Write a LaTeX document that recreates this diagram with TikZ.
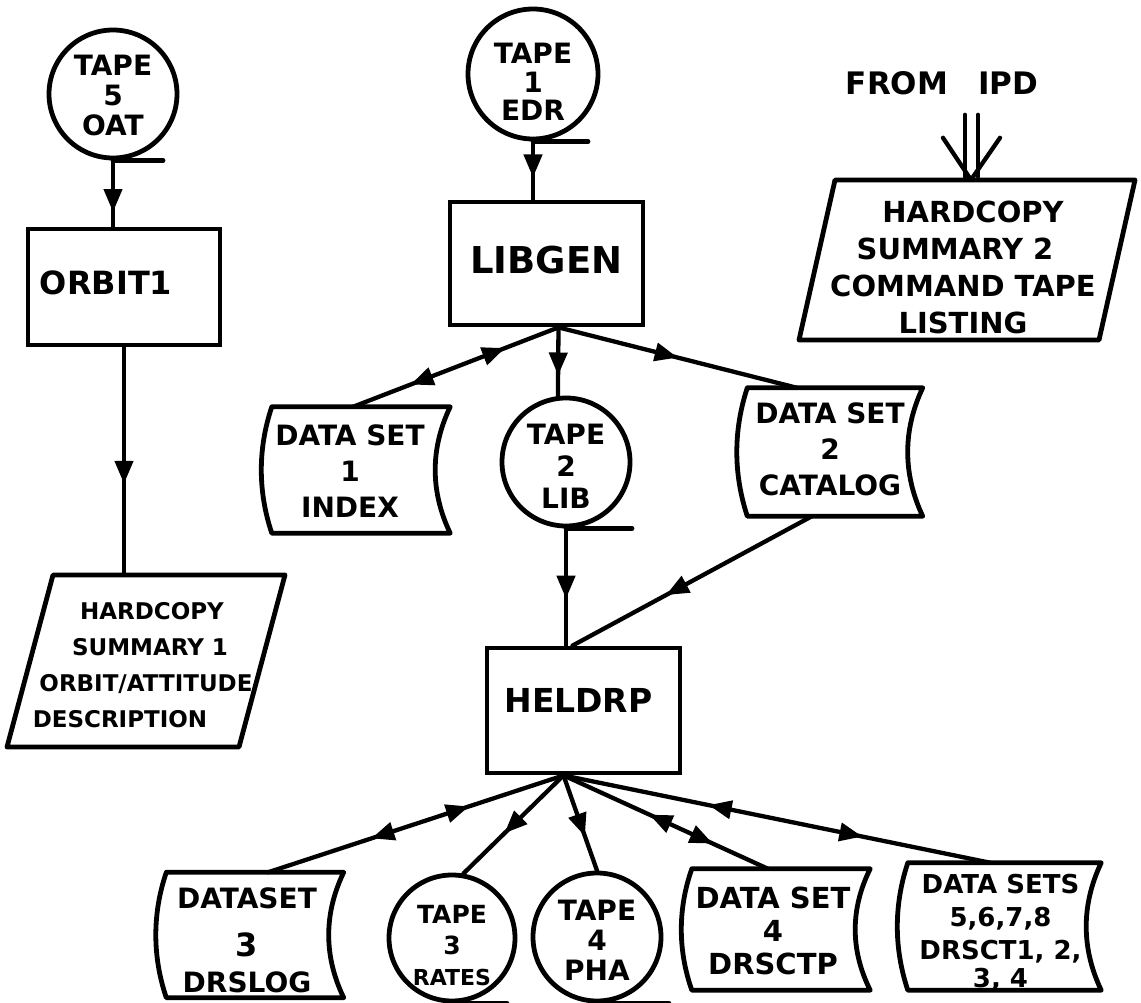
\documentclass[tikz,border=0pt]{standalone}
\usepackage{fontspec}
\newfontfamily\hand{DejaVu Sans}
\usetikzlibrary{calc,decorations.markings,arrows.meta}
\newcommand\tx[3]{\raisebox{#2}[\height][\depth]{\hspace*{#1}\begin{tabular}{@{}c@{}}#3\end{tabular}}}
\newcommand\dsbox[1]{\draw[shp] (#1.north west) -- (#1.north east)
  .. controls ($(#1.north east)!0.33!(#1.south east)+(-20,0)$) and ($(#1.north east)!0.67!(#1.south east)+(-20,0)$) .. (#1.south east)
  -- (#1.south west)
  .. controls ($(#1.north west)!0.67!(#1.south west)+(-14,0)$) and ($(#1.north west)!0.33!(#1.south west)+(-14,0)$) .. (#1.north west);}
\newcommand\para[4]{\draw[shp] ($(#1)+(-#2+#4,-#3)$) -- ($(#1)+(#2+#4,-#3)$) -- ($(#1)+(#2-#4,#3)$) -- ($(#1)+(-#2-#4,#3)$) -- cycle;}
\tikzset{
  shp/.style={line width=4.8pt, line join=round, line cap=round},
  conn/.style={line width=4.3pt, line cap=round},
  circ/.style={circle, draw, line width=4.8pt, inner sep=0pt, font=\hand\bfseries\fontsize{28}{30}\selectfont},
  procbox/.style={rectangle, draw, line width=4.8pt, inner sep=0pt, font=\hand\bfseries\fontsize{34}{40}\selectfont},
  dset/.style={rectangle, inner sep=0pt, font=\hand\bfseries\fontsize{28}{36}\selectfont},
  hcopy/.style={rectangle, inner sep=0pt, font=\hand\bfseries\fontsize{23}{36}\selectfont},
  fwd/.style={postaction={decorate,decoration={markings,mark=at position #1 with {\arrow{Triangle[length=23pt,width=18pt]}}}}},
  bwd/.style={postaction={decorate,decoration={markings,mark=at position #1 with {\arrowreversed{Triangle[length=23pt,width=18pt]}}}}},
}
\begin{document}
\begin{tikzpicture}[x=1pt,y=-1pt]
\useasboundingbox (0,0) rectangle (1141,1003);

% left column
\node[circ, minimum size=128pt] (t5) at (113,94) {\tx{0pt}{-6pt}{TAPE\\5\\OAT}};
\node[procbox, font=\hand\bfseries\fontsize{32}{36}\selectfont, minimum width=192pt, minimum height=116pt] (orbit) at (124,287) {\tx{-36pt}{0pt}{ORBIT1}};
\node[hcopy, minimum width=232pt, minimum height=172pt] (hc1) at (146,661)
  {\tx{0pt}{-5pt}{\hspace*{12pt}HARDCOPY\\\hspace*{8pt}SUMMARY 1\\ORBIT/ATTITUDE\\DESCRIPTION\hspace*{52pt}}};
\para{hc1}{116}{86}{23}

% middle column
\node[circ, font=\hand\bfseries\fontsize{28}{28}\selectfont, minimum size=130pt] (t1) at (533,74) {\tx{0pt}{-12pt}{TAPE\\1\\EDR}};
\node[procbox, font=\hand\bfseries\fontsize{37}{40}\selectfont, minimum width=193pt, minimum height=123pt] (libgen) at (546.5,263.5) {\tx{0pt}{-2pt}{LIBGEN}};
\node[dset, minimum width=178pt, minimum height=126pt] (ds1) at (361,470) {\tx{-22pt}{-4pt}{DATA SET\\1\\INDEX}};
\dsbox{ds1}
\node[circ, font=\hand\bfseries\fontsize{28}{32}\selectfont, minimum size=128pt] (t2) at (566,462) {\tx{0pt}{-8pt}{TAPE\\2\\LIB}};
\node[dset, minimum width=175pt, minimum height=128pt] (ds2) at (835,452) {\tx{-10pt}{0pt}{DATA SET\\2\\CATALOG}};
\dsbox{ds2}
\node[procbox, font=\hand\bfseries\fontsize{33}{36}\selectfont, minimum width=193pt, minimum height=125pt] (heldrp) at (583.5,710.5) {\tx{-10pt}{5pt}{HELDRP}};

% right top
\node[font=\hand\bfseries\fontsize{31}{36}\selectfont, inner sep=0pt] (ipd) at (942,83) {FROM\hspace{30pt}IPD};
\node[hcopy, font=\hand\bfseries\fontsize{29}{37}\selectfont, minimum width=300pt, minimum height=160pt] (hc2) at (967,260)
  {\tx{-8pt}{-11pt}{\hspace*{20pt}HARDCOPY\\SUMMARY 2\hspace*{16pt}\\COMMAND TAPE\\LISTING}};
\para{hc2}{150}{80}{18}

% bottom row
\node[dset, minimum width=177pt, minimum height=125pt] (ds3) at (255,935) {\tx{-16pt}{-8pt}{DATASET\\[12pt]{\fontsize{32}{36}\selectfont 3}\\DRSLOG}};
\dsbox{ds3}
\node[circ, font=\hand\bfseries\fontsize{25}{31}\selectfont, minimum size=126pt] (t3) at (452,938) {\tx{0pt}{-10pt}{TAPE\\3\\{\fontsize{22}{30}\selectfont RATES}}};
\node[circ, minimum size=128pt] (t4) at (597,937) {\tx{0pt}{-7pt}{TAPE\\4\\PHA}};
\node[dset, font=\hand\bfseries\fontsize{29}{33}\selectfont, minimum width=178pt, minimum height=121pt] (ds4) at (781,929.5) {\tx{-16pt}{-5pt}{DATA SET\\4\\DRSCTP}};
\dsbox{ds4}
\node[dset, font=\hand\bfseries\fontsize{26}{33}\selectfont, minimum width=193pt, minimum height=123pt] (ds5) at (1004.5,926.5) {\tx{-8pt}{-7pt}{DATA SETS\\5,6,7,8\\DRSCT1, 2,\\[-5pt]3, 4}};
\dsbox{ds5}

% tape tails
\draw[shp] (t5.south) -- ++(50,0);
\draw[shp] (t1.south) -- ++(55,0);
\draw[shp] (t2.south) -- ++(66,0);
\draw[shp] (t3.south) -- ++(55,0);
\draw[shp] (t4.south) -- ++(72,0);

% fan points
\coordinate (lgb) at ($(libgen.south)+(12,0)$);
\coordinate (hb) at ($(heldrp.south)+(-20,0)$);

% connectors
\draw[conn, fwd=0.78] (t5.south) -- (t5.south |- orbit.north);
\draw[conn, fwd=0.6] (orbit.south) -- (orbit.south |- hc1.north);
\draw[conn, fwd=0.62] (t1.south) -- (t1.south |- libgen.north);
\draw[conn, fwd=0.7] (lgb) -- (t2.97);
\draw[conn, fwd=0.5] (lgb) -- ($(ds2.north)+(-38,0)$);
\draw[conn, bwd=0.26, fwd=0.72] (lgb) -- ($(ds1.north)+(-8,0)$);
\draw[conn, fwd=0.6] (t2.south) -- (t2.south |- heldrp.north);
\draw[conn, fwd=0.61] ($(ds2.south)+(-23,0)$) -- ($(heldrp.north)+(-11,0)$);
\draw[conn, bwd=0.32, fwd=0.65] (hb) -- ($(ds3.north)+(13,0)$);
\draw[conn, fwd=0.59] (hb) -- (t3.80);
\draw[conn, fwd=0.64] (hb) -- (t4.north);
\draw[conn, bwd=0.42, fwd=0.73] (hb) -- ($(ds4.north)+(-13,0)$);
\draw[conn, bwd=0.34, fwd=0.70] (hb) -- ($(ds5.north)+(-14,0)$);

% double arrow from IPD
\coordinate (ipdtip) at ($(hc2.north)+(4,0)$);
\draw[conn] ($(ipdtip)+(-6,-65)$) -- ($(ipdtip)+(-6,-3)$);
\draw[conn] ($(ipdtip)+(7,-65)$) -- ($(ipdtip)+(7,-3)$);
\draw[conn, line join=round] ($(ipdtip)+(-28,-42)$) -- (ipdtip) -- ($(ipdtip)+(29,-42)$);
\end{tikzpicture}
\end{document}
